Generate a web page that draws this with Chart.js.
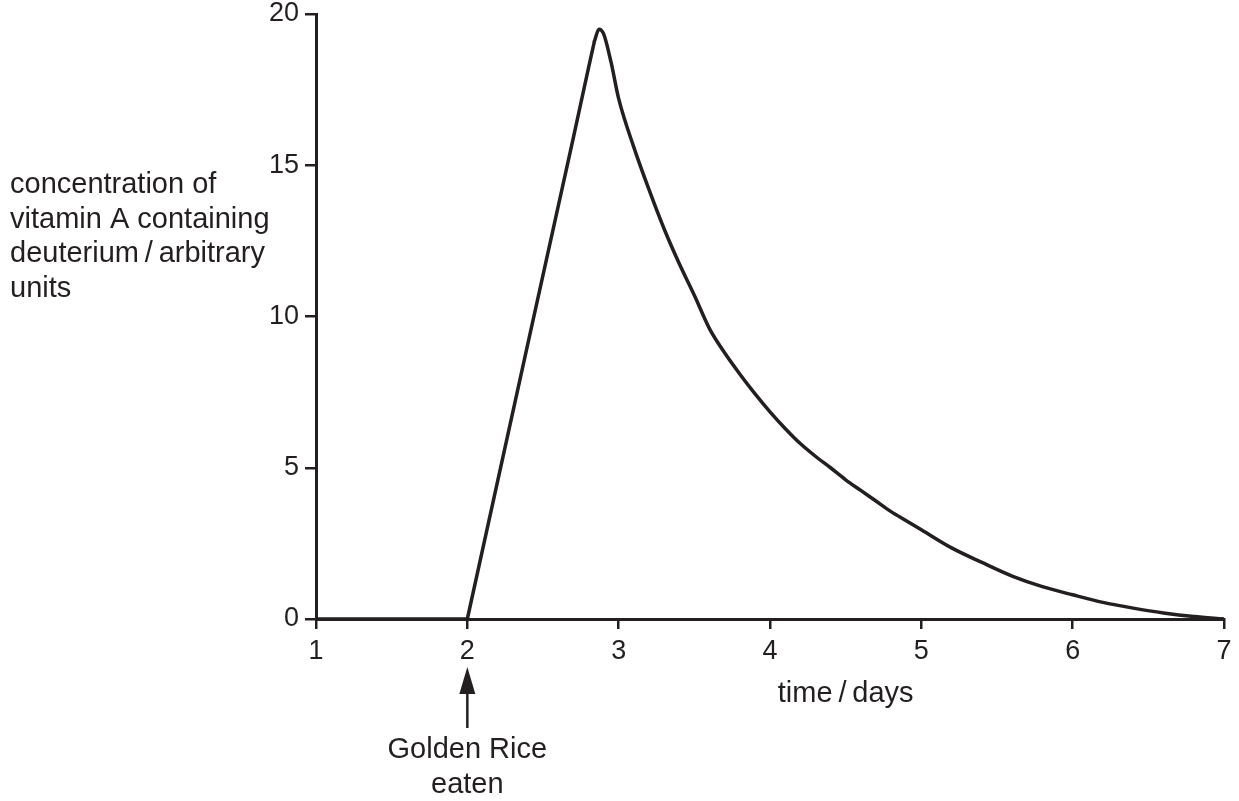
<!DOCTYPE html>
<html>
<head>
<meta charset="utf-8">
<script src="https://cdn.jsdelivr.net/npm/chart.js@4.4.0/dist/chart.umd.min.js"></script>
<style>
  body { margin: 0; background: #fff; }
  #wrap { width: 1239px; height: 801px; }
</style>
</head>
<body>
<div id="wrap"><canvas id="curveChart" width="1239" height="801"></canvas></div>
<script>
// valores: subida (recta) y pico + bajada (curva)
var riseDays = [1, 2, 2.4, 2.7, 2.8, 2.84];
var riseConc = [0, 0, 9.1, 15.9, 18.2, 19.1];
var fallDays = [2.84, 2.87, 2.9, 2.95, 3.0, 3.1, 3.2, 3.3, 3.4, 3.5, 3.6, 3.7, 3.8, 3.9,
  4.0, 4.1, 4.2, 4.3, 4.4, 4.5, 4.6, 4.7, 4.8, 4.9, 5.0, 5.2, 5.4, 5.6, 5.8, 6.0, 6.2, 6.4, 6.6, 6.8, 7.0];
var fallConc = [19.1, 19.5, 19.35, 18.4, 17.2, 15.6, 14.2, 12.9, 11.75, 10.7, 9.6, 8.8, 8.1, 7.45,
  6.85, 6.3, 5.8, 5.38, 5.0, 4.6, 4.25, 3.9, 3.55, 3.25, 2.95, 2.35, 1.87, 1.42, 1.07, 0.8, 0.55, 0.36, 0.2, 0.08, 0];

var xTicks = [1, 2, 3, 4, 5, 6, 7];
var yTicks = [0, 5, 10, 15, 20];

var yTitleLines = ["concentration of", "vitamin A containing", "deuterium\u2009/\u2009arbitrary", "units"];
var xTitle = "time\u2009/\u2009days";
var eatenDay = 2;
var eatenLines = ["Golden Rice", "eaten"];

var ink = "#231f20";
var fontFamily = '"Liberation Sans", Arial, Helvetica, sans-serif';

function toPoints(xs, ys) {
  return xs.map(function (d, i) {
    return { x: d, y: ys[i] };
  });
}

// textos y flecha dibujados sobre el canvas
var annotations = {
  id: "annotations",
  afterDraw: function (chart) {
    var ctx = chart.ctx;
    var area = chart.chartArea;
    var xs = chart.scales.x;
    ctx.save();
    ctx.fillStyle = ink;
    ctx.strokeStyle = ink;

    ctx.font = "29px " + fontFamily;
    ctx.textAlign = "left";
    ctx.textBaseline = "alphabetic";
    yTitleLines.forEach(function (t, i) {
      ctx.fillText(t, 10, 193 + i * 34.5);
    });

    ctx.textAlign = "center";
    ctx.fillText(xTitle, xs.getPixelForValue(4.5), area.bottom + 83);

    var ax = xs.getPixelForValue(eatenDay);
    var tip = area.bottom + 48;
    ctx.beginPath();
    ctx.moveTo(ax, tip);
    ctx.lineTo(ax - 8, tip + 27);
    ctx.lineTo(ax + 8, tip + 27);
    ctx.closePath();
    ctx.fill();
    ctx.lineWidth = 2.5;
    ctx.beginPath();
    ctx.moveTo(ax, tip + 20);
    ctx.lineTo(ax, tip + 61);
    ctx.stroke();

    eatenLines.forEach(function (t, i) {
      ctx.fillText(t, ax, area.bottom + 139 + i * 35);
    });
    ctx.restore();
  },
};

var ctx1 = document.getElementById("curveChart").getContext("2d");
var myChart = new Chart(ctx1, {
  type: "line",
  data: {
    datasets: [
      {
        data: toPoints(riseDays, riseConc),
        borderColor: ink,
        borderWidth: 3.5,
        borderJoinStyle: "round",
        pointRadius: 0,
        tension: 0,
        fill: false,
      },
      {
        data: toPoints(fallDays, fallConc),
        borderColor: ink,
        borderWidth: 3.5,
        borderJoinStyle: "round",
        borderCapStyle: "round",
        pointRadius: 0,
        cubicInterpolationMode: "monotone",
        fill: false,
      },
    ],
  },
  options: {
    responsive: false,
    animation: false,
    layout: { padding: { top: 0, right: 15, bottom: 0, left: 0 } },
    plugins: { legend: { display: false }, tooltip: { enabled: false } },
    scales: {
      x: {
        type: "linear",
        min: 1,
        max: 7,
        afterBuildTicks: function (s) {
          s.ticks = xTicks.map(function (v) { return { value: v }; });
        },
        afterFit: function (s) { s.height = 182; },
        grid: { drawOnChartArea: false, drawTicks: true, tickLength: 10, color: ink, lineWidth: 2.5 },
        border: { display: true, color: ink, width: 3 },
        ticks: { color: ink, padding: 6, font: { family: fontFamily, size: 27 } },
      },
      y: {
        min: 0,
        max: 20,
        afterBuildTicks: function (s) {
          s.ticks = yTicks.map(function (v) { return { value: v }; });
        },
        afterFit: function (s) {
          s.width = 316;
          s.paddingTop = 14;
        },
        grid: { drawOnChartArea: false, drawTicks: true, tickLength: 11, color: ink, lineWidth: 2.5 },
        border: { display: true, color: ink, width: 3 },
        ticks: { color: ink, padding: 6, font: { family: fontFamily, size: 27 } },
      },
    },
  },
  plugins: [annotations],
});
</script>
</body>
</html>
